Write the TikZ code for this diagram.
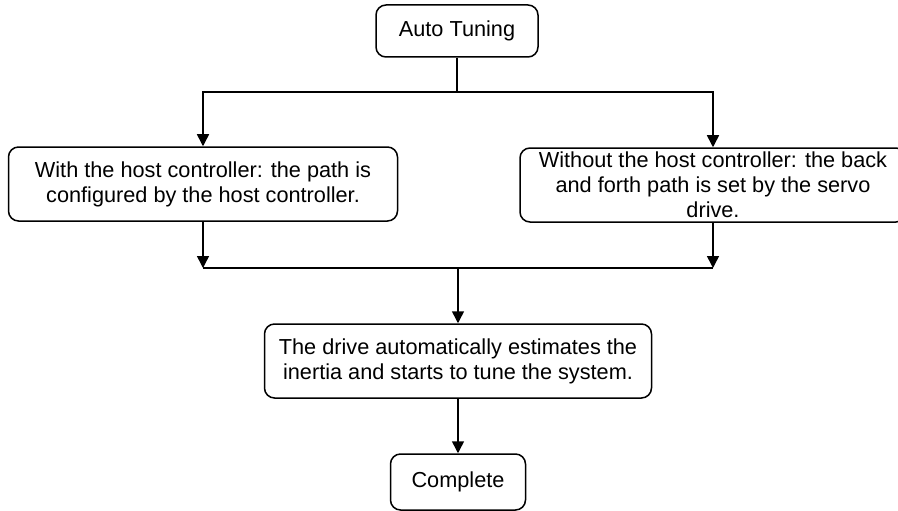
\documentclass[tikz,border=0pt]{standalone}
\usepackage{fontspec}
\setmainfont{Liberation Sans}
\usetikzlibrary{arrows.meta,positioning}

\begin{document}
\begin{tikzpicture}[
    x=1pt, y=-1pt,
    every node/.style={font=\fontsize{21.7}{25}\selectfont},
    box/.style={draw, line width=1.5pt, rounded corners=10pt, align=center, inner sep=0pt},
    arr/.style={-{Triangle[width=12pt,length=12pt]}, line width=1.5pt},
    line/.style={line width=1.5pt}
  ]
    \useasboundingbox (0,0) rectangle (898,511);
    \node[box, minimum width=162pt, minimum height=52pt] (tune) at (457,31) {Auto Tuning};
    \node[box, minimum width=389pt, minimum height=74pt] (host) at (203,184) {With the host controller: the path is\\configured by the host controller.};
    \node[box, minimum width=386pt, minimum height=74pt] (servo) at (713,185) {};
    \node[align=center, inner sep=0pt] (servotext) at (servo.center) {Without the host controller: the back\\and forth path is set by the servo\\drive.};
    \node[box, minimum width=387pt, minimum height=74pt] (auto) at (458,361) {The drive automatically estimates the\\inertia and starts to tune the system.};
    \node[box, minimum width=135pt, minimum height=56pt] (done) at (458,482) {Complete};

    \coordinate (split) at (tune.south |- 0,92);
    \coordinate (merge) at (auto.north |- 0,268);

    \draw[line] (tune) -- (split);
    \draw[arr] (split) -| (host);
    \draw[arr] (split) -| (servo);
    \draw[arr] (host) -- (host |- merge);
    \draw[arr] (servo) -- (servo |- merge);
    \draw[line] (host |- merge) -- (servo |- merge);
    \draw[arr] (merge) -- (auto);
    \draw[arr] (auto) -- (done);
  \end{tikzpicture}
\end{document}
